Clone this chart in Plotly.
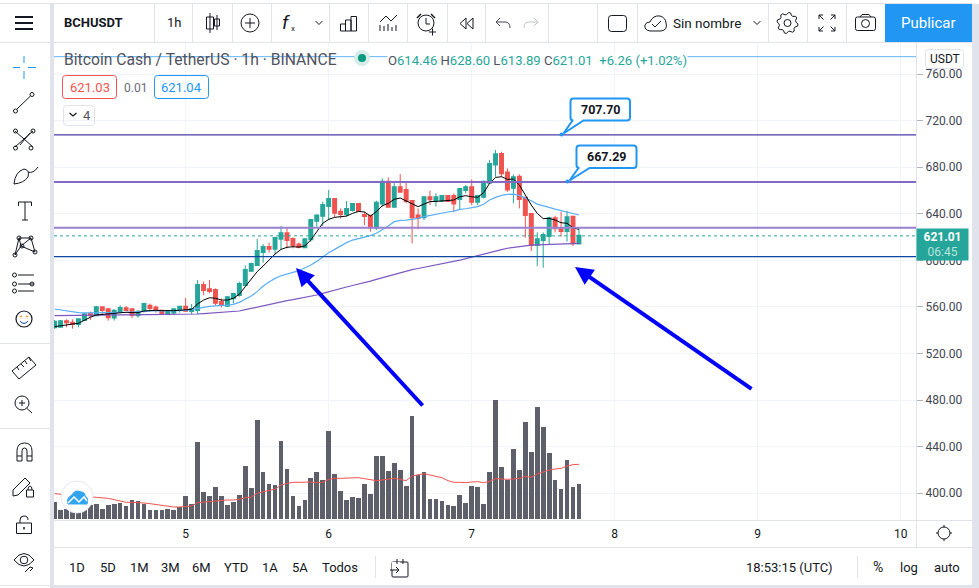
import re, math
import pandas as pd
import plotly.graph_objects as go

# ---------- data (hourly, BCHUSDT) ----------
opens = [542.5,543.0,547.6,546.5,545.3,548.8,553.9,552.8,559.6,557.9,550.8,556.5,558.8,557.9,552.8,556.5,561.1,559.4,556.8,553.9,555.1,557.4,
 560.2,556.5,557.4,578.8,575.1,574.5,564.2,561.1,567.4,570.2,578.8,591.1,596.0,607.2,611.4,610.0,618.6,623.2,618.3,613.7,611.2,618.0,634.0,638.3,
 646.6,652.6,641.8,639.8,643.2,648.3,638.9,638.3,628.3,648.9,667.5,646.1,662.7,660.4,650.9,638.6,636.9,654.1,651.8,651.2,655.2,655.2,652.6,660.4,
 662.7,650.4,654.6,666.7,682.4,691.3,675.5,662.4,671.8,653.8,639.8,613.2,617.5,620.9,636.1,627.5,625.2,637.5,614.46]
highs = [548.8,548.8,549.3,549.3,549.6,554.2,555.9,560.8,559.9,558.8,557.9,561.4,560.8,558.5,557.4,563.6,562.8,561.1,557.4,557.4,558.5,560.8,
 567.7,562.5,583.1,581.7,583.1,575.9,567.4,569.4,572.2,581.7,595.7,598.0,618.3,614.0,615.2,619.7,629.5,627.8,619.7,615.2,618.9,635.2,639.2,650.4,
 660.4,652.6,644.6,650.9,648.9,648.3,641.8,638.9,651.2,670.4,671.2,667.5,674.1,666.7,650.9,644.6,654.6,659.8,657.5,656.1,656.1,657.5,661.8,664.7,
 669.5,655.2,668.4,686.1,694.7,693.3,679.0,673.8,673.8,653.8,639.8,624.0,624.0,637.5,638.4,641.8,642.6,638.1,628.60]
lows = [541.3,542.5,542.5,541.3,542.5,548.2,548.8,552.2,553.9,548.2,548.2,555.6,556.5,550.5,550.8,555.1,557.4,555.1,553.3,553.1,553.9,555.1,
 555.9,553.9,553.6,570.2,571.7,561.6,559.6,560.2,563.1,568.8,577.4,590.6,595.1,598.0,606.6,605.4,609.4,610.3,610.3,610.3,610.6,616.0,628.9,629.5,
 634.6,636.9,636.0,637.5,641.8,641.8,630.3,624.6,626.0,646.1,645.5,645.2,658.9,648.9,614.6,626.6,634.6,647.5,646.1,650.1,650.1,641.8,643.2,657.5,
 647.5,647.5,653.2,665.5,671.8,671.8,658.9,648.9,644.6,619.5,608.0,595.1,593.7,613.7,624.0,620.3,616.0,612.3,613.89]
closes = [547.3,547.6,546.8,545.3,549.3,553.6,552.8,559.6,557.4,551.1,556.8,559.1,557.4,553.1,555.9,562.5,559.1,557.4,553.9,556.2,557.9,560.2,
 556.8,558.2,578.8,574.5,573.7,563.6,561.6,568.2,571.1,579.7,591.7,596.8,608.0,611.4,610.0,619.2,623.2,617.5,613.2,611.4,618.0,634.6,638.6,647.5,
 652.7,640.9,639.8,644.0,648.3,642.3,638.0,628.3,649.5,667.5,646.1,662.7,658.9,650.9,636.9,636.3,654.1,652.4,654.1,655.2,650.9,648.9,661.2,662.7,
 650.4,655.2,667.5,682.7,691.0,674.7,660.9,671.3,652.7,638.9,613.2,618.0,621.8,636.1,627.5,625.2,636.9,614.6,621.01]
volumes = [51,27,30,25,21,27,42,45,30,42,45,48,39,57,54,46,27,27,27,30,27,36,
 69,45,231,81,69,96,69,42,51,72,159,93,297,141,105,102,234,150,69,39,57,123,141,117,
 264,135,84,57,66,63,105,75,189,189,144,168,147,99,309,132,141,60,60,54,42,39,72,48,
 99,96,45,141,357,156,117,210,147,291,201,336,276,198,117,90,177,96,105]
volume_ma = [76,74,72,70,68,67,66,65,64,62,58,54,50,50,50,48,46,43,41,38,36,36,
 37,39,49,51,53,54,57,57,57,59,64,66,77,82,86,89,102,107,110,110,111,111,109,110,
 119,122,122,123,124,124,121,119,115,117,120,122,119,115,129,132,136,132,129,124,115,110,110,109,
 111,112,109,113,121,119,119,120,122,128,125,135,142,147,150,152,159,163,164]
ma_black = [543.0,543.9,544.8,545.3,545.9,548.8,551.1,553.1,553.6,553.6,554.2,555.1,555.4,555.1,555.1,556.5,557.1,557.1,556.8,556.5,556.8,557.1,
 557.4,557.9,562.5,565.9,567.9,567.4,565.9,565.9,567.4,570.8,577.4,584.0,590.3,595.1,600.3,605.4,609.4,611.2,611.7,611.4,612.3,617.5,624.6,631.8,
 635.2,636.9,637.5,638.0,640.3,642.0,641.5,638.0,641.8,646.9,648.9,652.4,653.5,651.2,648.3,646.1,648.3,650.4,650.6,651.2,651.2,651.8,654.6,655.5,
 654.6,654.1,658.1,666.1,671.2,671.8,669.5,669.8,664.7,656.1,647.5,640.3,635.8,636.0,634.6,632.3,631.8,628.0,626.6]
ma_blue = [558.2,557.4,556.5,555.9,555.1,554.8,554.8,555.1,555.1,555.4,555.4,555.4,555.4,555.6,555.9,556.5,556.8,556.8,556.5,556.5,556.8,556.8,
 557.1,557.6,558.8,559.6,560.5,561.1,561.4,561.6,562.2,563.9,566.5,569.4,573.1,577.9,581.4,584.5,586.8,588.0,589.7,591.1,593.4,596.0,599.1,603.1,
 606.6,609.4,612.6,615.2,617.4,618.6,620.0,621.2,623.2,626.0,629.5,633.2,634.3,634.6,635.2,636.0,637.5,638.6,639.8,640.3,641.5,642.3,643.8,644.3,
 645.2,646.1,648.1,651.8,654.1,655.8,656.6,656.9,655.8,653.8,651.2,648.3,646.6,645.5,644.0,642.6,641.2,640.0,638.9]
ma_purple = [552.5,552.6,552.7,552.8,552.8,552.9,553.0,553.2,553.3,553.3,553.4,553.4,553.4,553.4,553.4,553.4,553.4,553.4,553.4,553.4,553.4,553.4,
 553.4,553.6,553.9,554.2,554.6,555.1,555.4,555.6,555.9,556.5,557.6,558.8,560.0,561.1,562.2,563.1,564.4,565.4,566.2,567.1,568.0,568.9,570.2,571.6,
 573.1,574.5,575.8,577.1,578.4,579.5,580.5,582.1,583.7,585.1,586.5,588.0,589.5,591.0,592.0,593.0,594.0,594.5,595.6,596.6,597.7,598.8,600.1,601.4,
 602.8,604.2,605.4,606.7,608.0,609.2,610.4,611.2,612.0,612.9,613.1,613.3,613.5,613.6,613.8,614.0,614.2,614.4,614.6]
price_levels = [707.70, 667.29, 628.0, 603.1]
last_price = 621.01
top_line = 774.9
price_ticks = [400,440,480,520,560,600,640,680,720,760]
day_ticks = ["2021-08-05","2021-08-06","2021-08-07","2021-08-08","2021-08-09","2021-08-10"]
times = pd.date_range("2021-08-04 02:00", periods=len(opens), freq="h")

# ---------- styling ----------
W, H = 979, 588
GREEN, RED, BLUE = "#26a69a", "#ef5350", "#2196f3"
INK, EDGE, GRID = "#131722", "#e0e3eb", "#f0f3fa"
FONT = "Roboto"
px = lambda x: x / W
py = lambda y: 1 - y / H

fig = go.Figure()
fig.add_trace(go.Bar(x=times, y=volumes, width=2840000, marker=dict(color="#5d606b", line_width=0), yaxis="y2", hoverinfo="skip"))
fig.add_trace(go.Scatter(x=times, y=volume_ma, mode="lines", line=dict(color=RED, width=1), yaxis="y2", hoverinfo="skip"))
fig.add_trace(go.Scatter(x=times, y=ma_purple, mode="lines", line=dict(color="#7e57c2", width=1.2), hoverinfo="skip"))
fig.add_trace(go.Scatter(x=times, y=ma_blue, mode="lines", line=dict(color="#5aaef5", width=1.2), hoverinfo="skip"))
# wicks + thin bodies
fig.add_trace(go.Candlestick(x=times, open=opens, high=highs, low=lows, close=closes,
    increasing=dict(line=dict(color=GREEN, width=1), fillcolor=GREEN),
    decreasing=dict(line=dict(color=RED, width=1), fillcolor=RED), whiskerwidth=0, hoverinfo="skip"))
# same candles without wicks, a stroke wider, so the bodies reach the reference width
body_top = [max(o, c) for o, c in zip(opens, closes)]
body_low = [min(o, c) for o, c in zip(opens, closes)]
fig.add_trace(go.Candlestick(x=times, open=opens, high=body_top, low=body_low, close=closes,
    increasing=dict(line=dict(color=GREEN, width=2), fillcolor=GREEN),
    decreasing=dict(line=dict(color=RED, width=2), fillcolor=RED), whiskerwidth=0, hoverinfo="skip"))
fig.add_trace(go.Scatter(x=times, y=ma_black, mode="lines", line=dict(color="#000000", width=1), hoverinfo="skip"))

shapes, notes = [], []

def conv(d):
    nums = iter(range(10**6))
    def rep(m):
        v = float(m.group(0))
        return f"{px(v):.5f}" if next(nums) % 2 == 0 else f"{py(v):.5f}"
    return re.sub(r"-?\d+\.?\d*", rep, d)

def path(d, color=INK, width=1.0, fill=None, layer="above"):
    shapes.append(dict(type="path", xref="paper", yref="paper", path=conv(d), layer=layer,
                       line=dict(color=color, width=width), fillcolor=fill or "rgba(0,0,0,0)"))

def rect(x0, y0, x1, y1, fill=None, color=None, width=0, layer="above"):
    shapes.append(dict(type="rect", xref="paper", yref="paper", x0=px(x0), x1=px(x1), y0=py(y0), y1=py(y1), layer=layer,
                       line=dict(color=color or "rgba(0,0,0,0)", width=width), fillcolor=fill or "rgba(0,0,0,0)"))

def rrect(x0, y0, x1, y1, r, color, width=1, fill=None):
    path(f"M {x0+r} {y0} L {x1-r} {y0} Q {x1} {y0} {x1} {y0+r} L {x1} {y1-r} Q {x1} {y1} {x1-r} {y1} "
         f"L {x0+r} {y1} Q {x0} {y1} {x0} {y1-r} L {x0} {y0+r} Q {x0} {y0} {x0+r} {y0} Z", color, width, fill)

def circ(cx, cy, r, color=INK, width=1, fill=None):
    shapes.append(dict(type="circle", xref="paper", yref="paper", x0=px(cx-r), x1=px(cx+r), y0=py(cy-r), y1=py(cy+r),
                       layer="above", line=dict(color=color, width=width), fillcolor=fill or "rgba(0,0,0,0)"))

def seg(x0, y0, x1, y1, color=EDGE, width=1):
    path(f"M {x0} {y0} L {x1} {y1}", color, width)

def text(x, y, s, size=13, color=INK, anchor="center", **kw):
    notes.append(dict(xref="paper", yref="paper", x=px(x), y=py(y), text=s, showarrow=False, xanchor=anchor, yanchor="middle",
                      font=dict(family=FONT, size=size, color=color), borderpad=0, **kw))

# ---------- horizontal levels drawn from the price values ----------
def level(p, color, width, dash="solid"):
    shapes.append(dict(type="line", xref="paper", yref="y", x0=px(54), x1=px(916), y0=p, y1=p, layer="above",
                       line=dict(color=color, width=width, dash=dash)))
level(top_line, "#64b5f6", 1)
level(price_levels[0], "#4a3aa8", 1.2)
level(price_levels[1], "#8468c6", 1.8)
level(price_levels[2], "#9a80d0", 2)
level(price_levels[3], "#0d47a1", 1.3)
level(last_price, GREEN, 1, "dot")

# ---------- window chrome ----------
rect(0, 0, 979, 3.5, fill="#ffffff")
seg(0, 3.5, 972, 3.5, EDGE, 1)
rect(50, 4, 54, 588, fill=EDGE)
rect(972, 4, 979, 588, fill=EDGE)
rect(54, 585, 972, 588, fill=EDGE)
seg(54, 42.5, 972, 42.5, EDGE, 1)
seg(0, 42.5, 50, 42.5, EDGE, 1)
seg(916.5, 43, 916.5, 547, EDGE, 1)
seg(54, 520.5, 972, 520.5, EDGE, 1)
seg(54, 547.5, 972, 547.5, EDGE, 1)
for s in [154, 192, 232, 271, 329, 368, 407, 447, 485, 548, 597, 637, 768, 807, 846]:
    seg(s + .5, 4, s + .5, 42, EDGE, 1)
for s in [343, 428, 585]:
    seg(0, s + .5, 50, s + .5, EDGE, 1)
seg(375.5, 556, 375.5, 578, EDGE, 1)
seg(857.5, 556, 857.5, 578, EDGE, 1)
rect(885, 4, 972, 42, fill=BLUE)

# top bar texts
text(63, 23, "<b>BCHUSDT</b>", 13, INK, "left")
text(174, 23, "1h", 13)
text(672, 23, "Sin nombre", 13.5, INK, "left")
text(928.5, 23, "Publicar", 15, "#ffffff")
text(286, 22, "<i>f</i>", 19)
text(293, 28, "x", 8)

# top bar icons
for y in [17, 23, 29]:
    seg(15, y, 33, y, INK, 2)
seg(210, 13, 210, 33, INK); rect(206.5, 17, 213.5, 29, color=INK, width=1)
seg(217, 15, 217, 30, INK); rect(214.5, 19, 219.5, 26, color=INK, width=1)
circ(250, 23, 9); seg(245, 23, 255, 23, INK); seg(250, 18, 250, 28, INK)
for cx in [319, 757]:
    path(f"M {cx-3.5} 21 L {cx} 24.5 L {cx+3.5} 21", INK, 1)
path("M 340.5 31 L 340.5 24 L 345.5 24 L 345.5 31 M 345.5 31 L 345.5 20 L 351 20 L 351 31 M 351 31 L 351 16.5 L 356.5 16.5 L 356.5 31 L 340.5 31", INK, 1)
path("M 380 22 L 386 16 L 391 21 L 397 15", INK, 1)
for i, x in enumerate([380, 384, 388, 392, 396]):
    seg(x, 31, x, [25, 26, 24, 27, 25][i], INK, 1)
circ(426, 23, 8); path("M 426 18 L 426 24 L 430 24", INK, 1); seg(417, 18, 421, 14, INK, 1.5); seg(431, 14, 435, 18, INK, 1.5)
seg(429, 32, 436, 32, INK); seg(432.5, 28.5, 432.5, 35.5, INK)
path("M 466 18 L 460 23.5 L 466 29 Z M 473 18 L 467 23.5 L 473 29 Z", INK, 1)
path("M 496 22 L 500 18 M 496 22 L 500 26 M 496 22 L 505 22 Q 510 22 510 28", "#434651", 1)
path("M 538 22 L 534 18 M 538 22 L 534 26 M 538 22 L 529 22 Q 524 22 524 28", "#c1c4cd", 1)
rrect(608.5, 15.5, 626.5, 31.5, 3, INK)
path("M 650 31 Q 644 30 645 25 Q 646 22 650 22 Q 653 15 660 16 Q 666 18 666 23 Q 668 30 661 31 Z", INK, 1)
path("M 652 24 L 655 27 L 661 21", INK, 1)
gx, gy = 787.5, 23
g = ""
for i in range(32):
    a = i * math.pi / 16 + math.pi / 32
    r = 10.5 if (i // 2) % 2 == 0 else 8.5
    g += ("M" if i == 0 else "L") + f" {gx + r*math.cos(a):.2f} {gy + r*math.sin(a):.2f} "
path(g + "Z", INK, 1); circ(gx, gy, 3.5)
for sx, sy in [(-1, -1), (1, -1), (-1, 1), (1, 1)]:
    cx, cy = 827 + sx * 8, 23 + sy * 8
    path(f"M {cx - sx*4} {cy} L {cx} {cy} L {cx} {cy - sy*4} M {cx} {cy} L {cx - sx*4.5} {cy - sy*4.5}", INK, 1)
rrect(855.5, 17, 875.5, 30.5, 2, INK); circ(865.5, 23.5, 4); path("M 860 17 L 862 14.5 L 869 14.5 L 871 17", INK, 1)

# left tools
seg(24, 56, 24, 63, BLUE, 1); seg(24, 71, 24, 79, BLUE, 1); seg(13, 67.5, 20, 67.5, BLUE, 1); seg(28, 67.5, 36, 67.5, BLUE, 1)
seg(17, 109, 30.5, 96, INK); circ(15.5, 111, 2); circ(32, 94.5, 2)
path("M 15 131 L 33 147 M 33 131 L 15 147 M 20 145 L 30 133", INK, 1); circ(15.5, 131, 2); circ(33, 131, 2); circ(15.5, 148, 2); circ(31, 148, 2)
path("M 14 184 Q 15 172 24 169 Q 30 170 28 177 Q 24 183 14 184 Z M 28 172 Q 33 174 38 167", INK, 1)
path("M 18.5 206 L 18.5 202 L 31.5 202 L 31.5 206 M 25 202 L 25 220 M 22 220 L 28 220", INK, 1)
path("M 15 255 L 19 238 L 31 238 L 35 252 L 21 246 L 15 255 M 19 238 L 21 246 L 31 238", INK, 1)
for cx, cy in [(15, 255), (19, 238), (31, 238), (35, 252), (22, 246)]:
    circ(cx, cy, 2)
for y, x0 in [(275, 18), (284, 18), (291, 18)]:
    seg(x0, y, 34, y, INK); circ(14.5, y, 2)
circ(32, 284, 2)
circ(24, 319, 8, INK, 1.2); circ(21, 316.5, .6, "#f57c00", 1); circ(27, 316.5, .6, "#f57c00", 1); path("M 20 321 Q 24 326 28 321", "#0d47a1", 1)
path("M 12 371 L 29 357 L 36 365 L 19 379 Z M 17 367 L 19 370 M 21 364 L 24 367 M 25 361 L 27 364 M 29 358 L 31 361", INK, 1)
circ(22, 403, 7); seg(22, 400, 22, 406, INK); seg(19, 403, 25, 403, INK); seg(27, 408.5, 32, 413, INK)
path("M 17 461 L 17 451 Q 17 443 24.5 443 Q 32 443 32 451 L 32 461 L 27 461 L 27 451 Q 27 448 24.5 448 Q 22 448 22 451 L 22 461 Z M 17 456 L 22 456 M 27 456 L 32 456", INK, 1)
path("M 13 490 L 25 478 L 30 483 L 18 495 L 13 496 Z", INK, 1); rect(26.5, 490, 33.5, 497, color=INK, width=1); path("M 28 490 Q 28 486 30 486 Q 32 486 32 490", INK, 1)
rect(16.5, 523, 31.5, 533.5, color=INK, width=1); path("M 20 523 L 20 520 Q 20 516 24 516 Q 28 516 28 520", INK, 1); seg(24, 527, 24, 529.5, INK, 1.5)
path("M 14 560 Q 24 547 34 560 Q 24 572 14 560 Z", INK, 1); circ(24, 560, 3.8); path("M 25 572 L 30 567 L 33 568 L 30 571", INK, 1)

# legend row
text(63, 59, "Bitcoin Cash / TetherUS · 1h · BINANCE", 15.7, "#50535e", "left")
circ(362, 58, 8, "rgba(0,0,0,0)", 0, "#d5ece9"); circ(362, 58, 4, "#089981", 0, "#089981")
g_ = lambda s: f"<span style='color:{GREEN}'>{s}</span>"
text(387, 60, "O" + g_("614.46") + " H" + g_("628.60") + " L" + g_("613.89") + " C" + g_("621.01") + " " + g_(" +6.26 (+1.02%)"),
     13.1, "#50535e", "left", bgcolor="#ffffff")
rrect(62.5, 75.5, 116.5, 98.5, 3, RED); text(89.5, 87.5, "621.03", 13, RED)
text(135, 87.5, "0.01", 12, "#6a6d78")
rrect(154.5, 75.5, 208.5, 98.5, 3, BLUE); text(181.5, 87.5, "621.04", 13, BLUE)
rrect(63.5, 105.5, 94.5, 125.5, 3, EDGE); path("M 69.5 113 L 73 116 L 76.5 113", INK, 1.2); text(86.5, 115.5, "4", 13, "#50535e")
rrect(925.5, 49.5, 963.5, 68.5, 3, EDGE); text(944.5, 59, "USDT", 12, INK)

# callouts on the two levels
def callout(x0, y0, x1, y1, tx, ty, label):
    r = 3
    path(f"M {x0+r} {y0} L {x1-r} {y0} Q {x1} {y0} {x1} {y0+r} L {x1} {y1-r} Q {x1} {y1} {x1-r} {y1} L {x0+13} {y1} L {tx+2} {ty-1} "
         f"L {x0+2} {y1} L {x0+r} {y1} Q {x0} {y1} {x0} {y1-r} L {x0} {y0+r} Q {x0} {y0} {x0+r} {y0} Z", BLUE, 2, "#ffffff")
    circ(tx, ty, 2, BLUE, 0, BLUE)
    text((x0 + x1) / 2, (y0 + y1) / 2, "<b>" + label + "</b>", 12.5, INK)
callout(570.5, 98.5, 630, 120.5, 561.5, 134.5, "707.70")
callout(576.5, 145.5, 636.5, 168, 567.5, 181.5, "667.29")

# hand-drawn blue arrows
for tip, tail in [((296, 268), (424, 407)), ((575, 267), (753, 390))]:
    notes.append(dict(xref="paper", yref="paper", x=px(tip[0]), y=py(tip[1]), ax=tail[0] - tip[0], ay=tail[1] - tip[1], text="",
                      showarrow=True, arrowhead=2, arrowsize=0.9, arrowwidth=4, arrowcolor="#0000ff"))

# last price tag
notes.append(dict(xref="paper", yref="y", x=px(916), y=last_price, yshift=8, xanchor="left", yanchor="top", align="center",
                  text="<b>621.01</b><br><span style='color:#b7e4df'>06:45</span>", showarrow=False, bgcolor=GREEN, width=51, height=31,
                  borderpad=0, font=dict(family=FONT, size=12, color="#ffffff")))

# logo
circ(77, 497, 16, "#e6e8ee", 1, "#ffffff")
path("M 68 504 Q 66 498 72 495 Q 75 489 81 492 Q 85 492 85 496 Q 89 498 87 504 Z", "#31a4ef", 1, "#31a4ef")
path("M 68 503 L 74 497 L 79 502 L 84 497 L 87 501", "#ffffff", 1.5)

# bottom bar
for x, s in [(77, "1D"), (108, "5D"), (139, "1M"), (170, "3M"), (201, "6M"), (236, "YTD"), (270, "1A"), (300, "5A"), (340, "Todos")]:
    text(x, 567, s, 13, INK)
rrect(392, 562, 408, 577, 1, INK)
rect(392, 562, 400, 570, fill="#ffffff")
path("M 397 559 L 397 564 M 403 559 L 403 564 M 390 570 L 399 570 M 396 567 L 399 570 L 396 573", INK, 1)
text(745, 567, "18:53:15 (UTC)", 13, INK, "left")
text(878, 567, "%", 14, INK); text(909, 567, "log", 13, INK); text(947, 567, "auto", 13, INK)
circ(944, 533, 6, INK, 1)
path("M 944 525 L 944 527 M 944 539 L 944 541 M 936 533 L 938 533 M 950 533 L 952 533", INK, 1)

fig.update_layout(
    width=W, height=H, autosize=False, margin=dict(l=0, r=0, t=0, b=0, pad=0), showlegend=False, bargap=0,
    paper_bgcolor="#ffffff", plot_bgcolor="#ffffff", font=dict(family=FONT, size=12, color=INK), hovermode=False,
    xaxis=dict(type="date", domain=[px(54), px(916)], range=["2021-08-04 01:54", "2021-08-10 02:34"], rangeslider=dict(visible=False),
               tickvals=day_ticks, tickformat="%-d", ticks="", showgrid=True, gridcolor=GRID, gridwidth=1, zeroline=False,
               showline=False, tickfont=dict(family=FONT, size=12, color=INK), ticklabelstandoff=5),
    yaxis=dict(domain=[py(520), py(42)], range=[377.0, 787.5], side="right", anchor="x", tickvals=price_ticks, tickformat=".2f",
               ticks="outside", ticklen=6, tickcolor="#b2b5be", tickwidth=1, showgrid=True, gridcolor=GRID, gridwidth=1, zeroline=False,
               showline=False, tickfont=dict(family=FONT, size=12, color="#434651")),
    yaxis2=dict(domain=[py(520), py(42)], overlaying="y", anchor="x", side="left", range=[-3, 1431], visible=False, showgrid=False),
    shapes=shapes, annotations=notes,
)
fig.write_html("out.html", config=dict(displayModeBar=False, responsive=False),
               post_script="document.body.style.margin='0';document.body.style.overflow='hidden';")
